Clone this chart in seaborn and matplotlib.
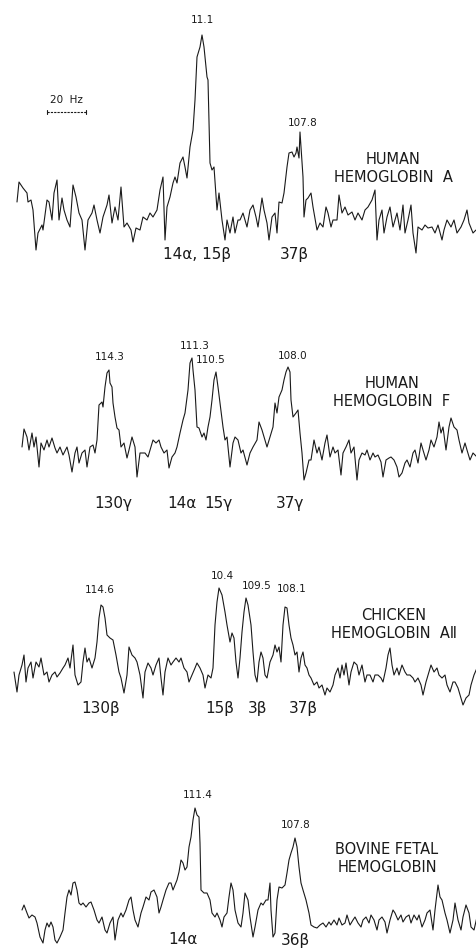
import matplotlib
matplotlib.use("Agg")
import matplotlib.pyplot as plt
import seaborn as sns
import pandas as pd

sns.set_theme(style="white")
plt.rcParams['font.family'] = ['DejaVu Sans']

hba_pos_a = [17,19,23,27,28,31,33,36,38,42, 43,47,49,52,54,57,59,62,64,67,
             70,73,76,79,82,85,88,92,94,97, 100,103,107,109,112,115,118,121,124,127,
             131,133,136,140,143,147,150,153,157,160, 163,165,167,170,173,175,177,180,183,185,
             187,190,193,195,197,200,202,204,207,208, 210,212,214,217,219,222,225,227,230,233,
             235,238]
hba_int_a = [98,118,112,107,98,100,90,50,67,75, 70,100,98,80,107,120,80,102,90,80,
             73,115,103,87,80,50,80,87,95,80, 67,83,95,105,77,93,80,113,73,77,
             70,58,72,70,83,80,87,83,90,110, 123,60,93,103,117,123,117,137,143,133,
             122,153,170,200,243,253,265,253,223,220, 137,130,133,90,107,80,60,80,67,83,
             67,80]
hba_pos_b = [240,243,247,250,253,256,258,262,264,267, 269,272,275,277,279,282,284,287,289,292,
             294,296,297,299,300,301,303,304,306,308, 311,313,317,320,323,326,328,331,333,337,
             339,342,345,348,352,355,358,362,365,368, 372,375,377,379,382,384,387,390,393,397,
             400,403,405,408,411,413,416,418,422,425, 428,432,435,438,442,444,447,451,454,457,
             461,464,467,469,473,476]
hba_int_b = [80,87,73,90,95,83,73,102,90,77, 60,83,87,67,98,97,107,133,147,148,
             143,147,153,142,168,153,123,83,100,102, 107,93,70,77,73,93,87,73,80,80,
             105,87,93,85,88,80,87,80,90,93, 100,110,60,80,90,67,83,93,73,87,
             70,95,67,80,95,67,47,73,70,75, 72,73,67,75,60,70,80,73,80,67,
             73,80,90,77,67,70]

hbf_pos_a = [22,24,27,29,32,34,36,39,41,44, 47,49,52,55,57,60,63,67,69,72,
             75,77,79,82,85,87,90,93,95,97, 99,102,103,105,107,109,110,112,113,115,
             117,119,121,124,127,129,132,135,137,140, 143,145,148,151,153,156,159,161,164,167,
             169,172,175,177,180,183,185,188,190,192, 193,195,197,199,202,204,206,208,210,212,
             214,216,218,220,223,225,227,230,233,235, 238,241,243,247]
hbf_int_a = [53,71,63,50,67,53,63,33,57,50, 60,53,62,52,47,53,45,53,45,28,
             47,53,37,47,50,33,53,55,47,60, 95,98,93,113,127,130,117,113,97,83,
             72,70,53,57,42,50,63,53,23,47, 47,47,43,53,60,57,60,53,47,50,
             32,43,47,53,67,80,87,110,137,142, 130,110,73,72,63,67,60,73,83,100,
             120,128,113,97,73,60,63,33,57,63, 60,47,50,35]
hbf_pos_b = [250,253,257,259,262,265,267,270,273,275, 277,279,282,284,286,288,290,291,293,296,
             298,300,302,304,306,309,311,314,317,319, 322,325,327,330,333,335,338,341,343,346,
             349,351,354,357,359,362,365,367,370,373, 375,378,381,383,386,389,391,394,397,399,
             402,405,407,410,413,415,418,421,423,426, 429,431,434,437,439,441,443,446,449,451,
             454,457,459,462,465,467,470,473,477]
hbf_int_b = [47,53,60,78,70,60,53,63,73,97, 87,103,110,120,128,133,128,100,83,87,
             90,67,47,20,27,40,40,60,47,53, 40,57,65,43,53,47,50,25,47,53,
             60,47,53,20,40,47,45,50,40,47, 43,45,38,23,40,42,43,40,33,23,
             27,37,40,33,47,50,37,57,50,40, 50,60,53,63,78,67,73,50,73,82,
             73,70,60,47,57,50,40,47,43]

chk_pos_a = [14,17,19,22,24,26,28,31,33,36, 39,41,44,47,49,52,55,57,60,63,
             65,68,70,73,75,78,81,83,85,87, 89,92,95,97,99,101,103,105,107,110,
             113,116,119,121,124,127,129,132,135,137, 140,143,145,148,151,153,156,159,161,163,
             165,168,171,173,176,179,181,184,187,189, 192,195,197,200,203,205,208,211,213,215,
             217,219,222,225,227,230,232,234,236,238, 240,242,244,246,248]
chk_int_a = [28,8,25,35,45,18,32,38,22,38, 33,42,25,28,18,25,28,23,27,32,
             35,42,32,55,25,15,18,38,52,38, 42,32,42,58,82,95,93,82,65,62,
             60,45,28,22,7,25,53,45,42,38, 25,2,28,37,32,25,35,42,22,5,
             28,42,35,38,42,38,42,32,28,18, 25,32,37,32,25,12,25,22,32,75,
             98,112,105,88,75,58,67,62,38,22, 42,68,88,102,95]
chk_pos_b = [251,253,255,257,259,261,263,265,267,270, 273,275,277,279,281,283,285,287,289,291,
             293,295,297,299,301,303,305,307,309,311, 314,317,319,322,325,327,330,333,335,338,
             340,342,344,346,349,351,354,357,359,362, 365,367,370,373,375,378,381,383,386,388,
             390,392,394,397,399,402,405,407,410,413, 415,418,421,423,426,429,431,434,437,439,
             442,445,447,450,453,455,458,461,463,466, 469,471,474,477]
chk_int_b = [75,48,25,18,38,48,42,25,22,38, 45,55,48,53,38,75,93,92,75,62,
             55,45,48,28,42,48,35,32,25,22, 15,18,12,15,5,12,8,15,25,32,
             22,35,25,37,15,28,38,35,25,35, 18,25,25,18,25,25,22,18,32,45,
             52,35,25,32,25,35,28,25,25,22, 18,22,15,5,18,28,35,28,32,25,
             22,25,15,8,18,18,12,2,-5,2, 5,15,25,32]

bov_pos_a = [22,24,27,29,32,35,37,40,43,45, 47,49,51,53,55,57,60,63,65,67,
             69,71,73,75,77,79,81,83,86,89, 91,94,97,99,102,105,107,110,113,115,
             118,121,123,126,129,131,133,135,138,141, 143,146,149,151,154,157,159,161,163,166,
             169,171,173,175,177,179,181,183,185,187, 189,191,193,195,197,199,200,201,204,207,
             210,212,215,217,220,222,224,227,229,231, 233,235,238,241,243,245,248]
bov_int_a = [90,95,87,82,85,83,77,63,57,70, 77,73,78,73,60,57,63,70,87,103,
             110,105,117,118,110,97,95,97,93,97, 98,90,80,77,83,70,67,77,83,60,
             80,87,83,90,100,103,90,80,73,87, 93,103,100,108,110,103,87,93,100,110,
             117,117,110,115,120,128,140,137,130,133, 153,163,180,192,185,183,157,110,107,107,
             100,87,83,87,80,73,83,87,103,117, 110,90,77,73,87,107,100]
bov_pos_b = [250,253,255,258,261,263,266,268,270,271, 273,275,277,279,282,285,287,289,291,293,
             295,297,299,301,303,306,309,311,314,317, 320,323,326,329,331,334,337,339,342,345,
             347,350,353,355,358,361,363,366,369,371, 374,377,379,382,385,387,390,393,395,398,
             401,403,406,409,411,414,417,419,422,425, 427,430,433,435,438,440,442,445,447,450,
             453,455,458,461,463,466,469,471,474,477]
bov_int_b = [83,63,73,90,97,95,100,100,117,90, 63,67,100,113,112,115,127,140,147,153,
             162,153,133,117,110,100,87,75,73,72, 75,77,73,78,75,80,75,82,75,77,
             85,75,80,83,77,73,80,83,77,85, 80,70,80,83,78,67,80,90,87,80,
             85,78,83,85,77,85,80,85,73,80, 87,90,70,90,115,103,100,87,80,67,
             80,97,80,70,83,95,87,73,70,83]

# peak labels: (position, height, text)
hba_peaks = [(202, 280, "11.1"), (303, 177, "107.8")]
hbf_peaks = [(110, 143, "114.3"), (195, 154, "111.3"), (211, 140, "110.5"), (293, 144, "108.0")]
chk_peaks = [(100, 110, "114.6"), (222, 124, "10.4"), (257, 114, "109.5"), (292, 111, "108.1")]
bov_peaks = [(198, 205, "111.4"), (296, 175, "107.8")]

# residue assignments: (position, height, text)
hba_assign = [(197, 46, "14α, 15β"), (294, 46, "37β")]
hbf_assign = [(113, -3, "130γ"), (182, -3, "14α"), (218, -3, "15γ"), (290, -3, "37γ")]
chk_assign = [(101, -9, "130β"), (220, -9, "15β"), (258, -9, "3β"), (303, -9, "37β")]
bov_assign = [(183, 61, "14α"), (295, 60, "36β")]

# sample names: (position, height, lines)
hba_name = (393, 132, "HUMAN\nHEMOGLOBIN  A")
hbf_name = (392, 108, "HUMAN\nHEMOGLOBIN  F")
chk_name = (394, 76, "CHICKEN\nHEMOGLOBIN  A\u2161")
bov_name = (387, 141, "BOVINE FETAL\nHEMOGLOBIN")

# ---------------- layout ----------------
W, H = 477, 950
fig = plt.figure(figsize=(W / 100, H / 100), dpi=100)
ink = "#1a1a1a"

panels = [
    # (pos_a, int_a, pos_b, int_b, peaks, assign, name, top_px, bottom_px, ref)
    (hba_pos_a, hba_int_a, hba_pos_b, hba_int_b, hba_peaks, hba_assign, hba_name, 0, 290, 300),
    (hbf_pos_a, hbf_int_a, hbf_pos_b, hbf_int_b, hbf_peaks, hbf_assign, hbf_name, 290, 525, 500),
    (chk_pos_a, chk_int_a, chk_pos_b, chk_int_b, chk_peaks, chk_assign, chk_name, 525, 720, 700),
    (bov_pos_a, bov_int_a, bov_pos_b, bov_int_b, bov_peaks, bov_assign, bov_name, 720, 950, 1000),
]

axes = []
for pa, ia, pb, ib, peaks, assign, name, top, bot, ref in panels:
    ax = fig.add_axes([0, 1 - bot / H, 1, (bot - top) / H])
    df = pd.DataFrame({"pos": list(pa) + list(pb), "intensity": list(ia) + list(ib)})
    sns.lineplot(data=df, x="pos", y="intensity", ax=ax, color=ink, lw=0.8,
                 sort=False, estimator=None)
    ax.set_xlim(0, W)
    ax.set_ylim(ref - bot, ref - top)
    ax.axis("off")
    for x, y, t in peaks:
        ax.text(x, y, t, ha="center", va="center", fontsize=7.5, color=ink)
    for x, y, t in assign:
        ax.text(x, y, t, ha="center", va="center", fontsize=11, color=ink)
    x, y, t = name
    ax.text(x, y, t, ha="center", va="center", fontsize=10.5, color=ink,
            linespacing=1.25)
    axes.append(ax)

# 20 Hz scale bar in the first panel
ax0 = axes[0]
ax0.plot([47, 86], [188, 188], color=ink, lw=0.8, ls=(0, (2, 1)))
ax0.plot([47, 47], [186, 190], color=ink, lw=0.8)
ax0.plot([86, 86], [186, 190], color=ink, lw=0.8)
ax0.text(66, 200, "20  Hz", ha="center", va="center", fontsize=7.5, color=ink)

fig.savefig("out.png", dpi=100, facecolor="white")
